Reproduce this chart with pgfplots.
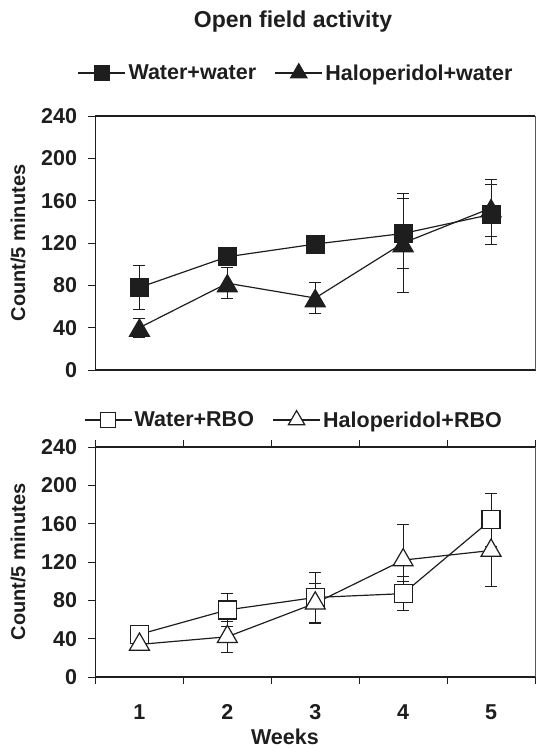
\documentclass[border=0pt]{standalone}
\usepackage{fontspec}
\setmainfont{Liberation Sans}
\usepackage{pgfplots}
\pgfplotsset{compat=1.18}

\definecolor{ink}{RGB}{30,30,30}

\newcommand{\tickfont}{\fontsize{21.5}{24}\bfseries\selectfont}

\pgfplotsset{
  panel/.style={
    scale only axis, width=439.5pt,
    xmin=0.5, xmax=5.5, ymin=0, ymax=240,
    ytick={0,40,...,240},
    axis line style={draw=none},
    clip=false,
    tick align=outside,
    major tick length=8pt,
    minor tick length=7pt,
    tick style={ink, line width=0.8pt},
    /pgf/number format/assume math mode=true,
    ticklabel style={font=\tickfont, text=ink},
    yticklabel style={xshift=-7pt},
    xticklabel style={yshift=-16pt},
    ylabel={Count/5 minutes},
    ylabel style={font=\fontsize{20}{22}\bfseries\selectfont, text=ink,
      at={(axis description cs:-0.176,0.5)}, anchor=center},
    legend columns=2,
    legend style={draw=none, fill=none, font=\tickfont, text=ink,
      anchor=center, inner sep=0pt, nodes={inner xsep=2.5pt, inner ysep=1pt},
      /tikz/every even column/.append style={column sep=16pt}},
    legend image code/.code={\draw[mark repeat=2,mark phase=2,#1]
      plot coordinates {(0pt,0pt) (23.5pt,0pt) (47pt,0pt)};},
  },
  ser/.style={ink, line width=1.2pt, mark options={solid, ink, line width=1pt}},
  tri/.style={mark=triangle*, mark size=11.5pt, mark options={yshift=-2.9pt}},
  bars/.style={error bars/.cd, y dir=both, y explicit,
    error mark options={rotate=90, mark size=6pt, line width=0.9pt, ink},
    error bar style={line width=0.9pt, ink}},
}

\begin{document}
\begin{tikzpicture}
\useasboundingbox (0pt,0pt) rectangle (536pt,-748pt);

\node[font=\fontsize{23}{26}\bfseries\selectfont, text=ink] at (293pt,-22pt) {Open field activity};

% top panel
\begin{axis}[panel, at={(95.5pt,-370pt)}, anchor=south west, height=254pt,
  xtick=\empty,
  legend style={at={(axis description cs:0.457,1.169)}}]
\addlegendimage{ser, mark=square*, mark size=7.5pt}
\addlegendentry{Water+water}
\addlegendimage{ser, mark=triangle*, mark size=9.5pt}
\addlegendentry{Haloperidol+water}

\addplot[ser, mark=square*, mark size=9pt, forget plot, bars] coordinates {
  (1,78) +- (0,21)
  (2,107) +- (0,7)
  (3,119) +- (0,5)
  (4,129) +- (0,33)
  (5,147) +- (0,28)
};
\addplot[ser, tri, forget plot, bars] coordinates {
  (1,40) +- (0,9)
  (2,82) +- (0,14.5)
  (3,68) +- (0,15)
  (4,120) +- (0,47)
  (5,153) +- (0,27)
};
\draw[line width=1.8pt, ink] (rel axis cs:1,1) -- (rel axis cs:0,1) -- (rel axis cs:0,0) -- (rel axis cs:1,0);
\draw[line width=0.8pt, black!65] (rel axis cs:1,0) -- (rel axis cs:1,1);
\end{axis}

% bottom panel
\begin{axis}[panel, at={(95.5pt,-677pt)}, anchor=south west, height=230pt,
  xtick={1,2,3,4,5},
  major x tick style={draw=none},
  minor xtick={0.5,1.5,2.5,3.5,4.5,5.5},
  xlabel={Weeks},
  xlabel style={font=\tickfont, text=ink, at={(axis description cs:0.431,-0.26)}, anchor=center},
  legend style={at={(axis description cs:0.452,1.117)}}]
\addlegendimage{ser, mark=square*, mark size=7.5pt, mark options={fill=white}}
\addlegendentry{Water+RBO}
\addlegendimage{ser, mark=triangle*, mark size=9.5pt, mark options={fill=white}}
\addlegendentry{Haloperidol+RBO}

\addplot[ser, mark=square*, mark size=9pt, mark options={fill=white}, forget plot, bars] coordinates {
  (1,44.5) +- (0,4)
  (2,70) +- (0,17)
  (3,83) +- (0,26)
  (4,87) +- (0,18)
  (5,164) +- (0,28)
};
\addplot[ser, tri, mark options={fill=white}, forget plot, bars] coordinates {
  (1,34) +- (0,5)
  (2,42) +- (0,16)
  (3,77) +- (0,21)
  (4,122) += (0,37) -= (0,22)
  (5,132) +- (0,38)
};
\draw[line width=1.8pt, ink] (rel axis cs:1,1) -- (rel axis cs:0,1) -- (rel axis cs:0,0) -- (rel axis cs:1,0);
\draw[line width=0.8pt, black!65] (rel axis cs:1,0) -- (rel axis cs:1,1);
\end{axis}
\end{tikzpicture}
\end{document}
